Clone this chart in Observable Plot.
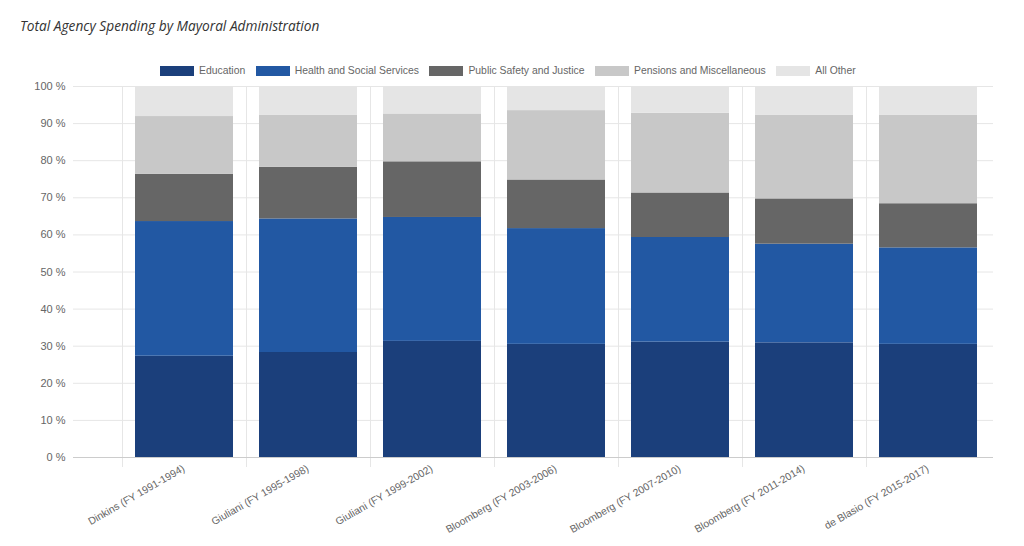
<!DOCTYPE html>
<html><head><meta charset="utf-8">
<script src="https://cdn.jsdelivr.net/npm/d3@7"></script>
<script src="https://cdn.jsdelivr.net/npm/@observablehq/plot@0.6"></script>
<style>
body{margin:0;background:#fff;width:1024px;height:546px;overflow:hidden;font-family:"Liberation Sans",Arial,sans-serif;}
#head{position:relative;height:80px;}
#title{position:absolute;left:20px;top:16px;font-family:"Open Sans",sans-serif;font-style:italic;font-size:13.7px;color:#333;}
#legend{position:absolute;top:65px;left:160px;display:flex;align-items:center;font-size:10.4px;color:#666;white-space:nowrap;}
.item{display:flex;align-items:center;margin-right:10.5px}
.sw{width:34px;height:10px;margin-right:5px}
#chart svg{display:block}
</style></head><body>
<div id="head"><div id="title">Total Agency Spending by Mayoral Administration</div><div id="legend"></div></div>
<div id="chart"></div>
<script>
const admins = ["Dinkins (FY 1991-1994)","Giuliani (FY 1995-1998)","Giuliani (FY 1999-2002)","Bloomberg (FY 2003-2006)","Bloomberg (FY 2007-2010)","Bloomberg (FY 2011-2014)","de Blasio (FY 2015-2017)"];
const categories = ["Education","Health and Social Services","Public Safety and Justice","Pensions and Miscellaneous","All Other"];
const colors = ["#1b3f7b","#2258a3","#666666","#c8c8c8","#e5e5e5"];
const education = [27.3, 28.3, 31.3, 30.5, 31.1, 30.9, 30.5];
const health    = [36.3, 36.0, 33.4, 31.2, 28.2, 26.6, 26.0];
const safety    = [12.7, 13.9, 15.0, 13.1, 12.0, 12.2, 11.9];
const pensions  = [15.6, 14.0, 12.9, 18.7, 21.5, 22.6, 23.9];
const other     = [8.1, 7.8, 7.4, 6.5, 7.2, 7.7, 7.7];
const yTicks = [0,10,20,30,40,50,60,70,80,90,100];

const series = [education, health, safety, pensions, other];
const data = [];
categories.forEach((c, j) => admins.forEach((a, i) => data.push({admin: a, category: c, value: series[j][i]})));

const legend = document.getElementById("legend");
categories.forEach((c, j) => {
  const it = document.createElement("div"); it.className = "item";
  const sw = document.createElement("div"); sw.className = "sw"; sw.style.background = colors[j];
  const t = document.createElement("span"); t.textContent = c;
  it.appendChild(sw); it.appendChild(t); legend.appendChild(it);
});

const chart = Plot.plot({
  width: 1024, height: 466,
  marginTop: 6, marginBottom: 89, marginLeft: 73, marginRight: 31,
  x: {domain: admins, range: [122, 990], paddingInner: 0.21, paddingOuter: 0.105, axis: null},
  y: {domain: [0, 100], axis: null},
  color: {domain: categories, range: colors},
  style: {fontFamily: "'Liberation Sans', Arial, sans-serif", fontSize: "11px", color: "#666", background: "#fff"},
  marks: [
    Plot.gridY(yTicks, {stroke: "#e6e6e6", strokeOpacity: 1}),
    Plot.ruleX(admins, {x: d => d, dx: -62, stroke: "#e6e6e6", strokeOpacity: 1, insetBottom: -10}),
    Plot.barY(data, {x: "admin", y: "value", fill: "category"}),
    Plot.ruleY([0], {stroke: "#cccccc"}),
    Plot.axisY(yTicks, {label: null, tickSize: 0, tickPadding: 8, tickFormat: d => d + " %", fill: "#666", fontSize: 11}),
    Plot.text(admins, {x: d => d, frameAnchor: "bottom", dx: 1, dy: 13, rotate: -30, textAnchor: "end", fill: "#666", fontSize: 10.4})
  ]
});
document.getElementById("chart").appendChild(chart);
</script>
</body></html>
